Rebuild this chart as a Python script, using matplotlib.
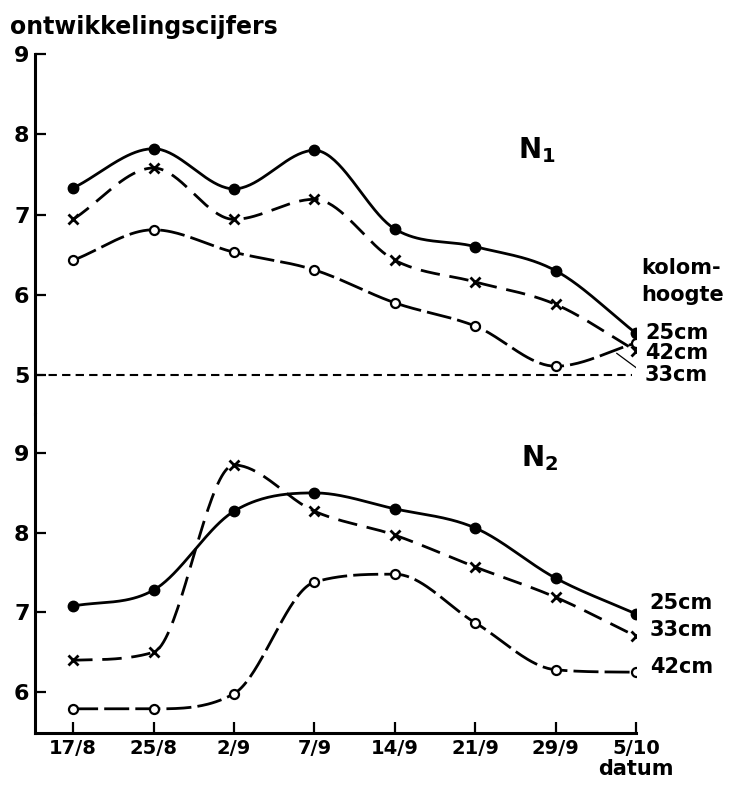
import numpy as np
import matplotlib
matplotlib.use("Agg")
import matplotlib.pyplot as plt

# meetdata: ontwikkelingscijfers per datum en kolomhoogte
datums = ["17/8", "25/8", "2/9", "7/9", "14/9", "21/9", "29/9", "5/10"]

n1_25 = [7.33, 7.82, 7.32, 7.80, 6.82, 6.60, 6.30, 5.52]
n1_33 = [6.94, 7.58, 6.94, 7.19, 6.43, 6.16, 5.88, 5.30]
n1_42 = [6.43, 6.81, 6.53, 6.31, 5.90, 5.61, 5.11, 5.40]

n2_25 = [7.08, 7.28, 8.27, 8.50, 8.30, 8.06, 7.43, 6.98]
n2_33 = [6.40, 6.50, 8.85, 8.27, 7.97, 7.57, 7.19, 6.70]
n2_42 = [5.79, 5.79, 5.98, 7.38, 7.48, 6.87, 6.28, 6.25]

N1_TICKS = [5, 6, 7, 8, 9]
N2_TICKS = [6, 7, 8, 9]
BASISLIJN = 5


def glad(x, y, n=40):
    # kubische Hermite-kromme: Catmull-Rom raaklijnen, begrensd zoals Fritsch-Carlson
    x = np.asarray(x, float)
    y = np.asarray(y, float)
    h = np.diff(x)
    d = np.diff(y) / h
    m = np.zeros_like(y)
    m[0], m[-1] = d[0], d[-1]
    for i in range(1, len(y) - 1):
        if d[i - 1] * d[i] > 0:
            m[i] = (y[i + 1] - y[i - 1]) / (x[i + 1] - x[i - 1])
    for i in range(len(d)):
        if d[i] == 0:
            m[i] = m[i + 1] = 0.0
            continue
        a, b = m[i] / d[i], m[i + 1] / d[i]
        r = a * a + b * b
        if r > 9:
            s = 3 / np.sqrt(r)
            m[i], m[i + 1] = s * a * d[i], s * b * d[i]
    xs, ys = [], []
    t = np.linspace(0, 1, n, endpoint=False)
    for i in range(len(h)):
        h00 = 2 * t ** 3 - 3 * t ** 2 + 1
        h10 = t ** 3 - 2 * t ** 2 + t
        h01 = -2 * t ** 3 + 3 * t ** 2
        h11 = t ** 3 - t ** 2
        xs.append(x[i] + t * h[i])
        ys.append(h00 * y[i] + h10 * h[i] * m[i] + h01 * y[i + 1] + h11 * h[i] * m[i + 1])
    xs.append([x[-1]])
    ys.append([y[-1]])
    return np.concatenate(xs), np.concatenate(ys)


def teken_reeks(ax, x, y, marker, stijl):
    gx, gy = glad(x, y)
    lijn, = ax.plot(gx, gy, color="black", lw=2.0, solid_capstyle="butt")
    if stijl is not None:
        lijn.set_dashes(stijl)
    if marker == "vol":
        ax.plot(x, y, "o", color="black", ms=7.5, zorder=3)
    elif marker == "open":
        ax.plot(x, y, "o", mfc="white", mec="black", ms=6.5, mew=1.6, zorder=3)
    else:
        ax.plot(x, y, "x", color="black", ms=6.5, mew=2.0, zorder=3)


plt.rcParams["font.family"] = "DejaVu Sans"
plt.rcParams["font.weight"] = "bold"
fig = plt.figure(figsize=(7.32, 7.90), dpi=100)
boven = fig.add_axes([0.048, 0.4759, 0.821, 0.4557])
onder = fig.add_axes([0.048, 0.0722, 0.821, 0.4037])

x = np.arange(len(datums))
xmin, xmax = -0.472, 7.0

for ax in (boven, onder):
    ax.set_xlim(xmin, xmax)
    for s in ("top", "right"):
        ax.spines[s].set_visible(False)
    ax.spines["left"].set_linewidth(2.2)
    ax.spines["bottom"].set_linewidth(2.2)
    ax.tick_params(axis="y", direction="in", length=8, width=1.6, labelsize=16, pad=4)
    ax.tick_params(axis="x", direction="in", length=8, width=1.6, labelsize=14, pad=4)

# bovenste paneel (N1)
boven.set_ylim(4.514, 9)
boven.set_yticks(N1_TICKS)
boven.spines["bottom"].set_visible(False)
boven.set_xticks([])
boven.plot([xmin, 6.95], [BASISLIJN, BASISLIJN], color="black", lw=1.5, dashes=(4, 2.5))
teken_reeks(boven, x, n1_25, "vol", None)
teken_reeks(boven, x, n1_33, "kruis", (7, 3.5))
teken_reeks(boven, x, n1_42, "open", (9, 2.2))
boven.plot([6.76, 7.07], [5.27, 5.04], color="black", lw=0.9)

tekst = dict(fontsize=15, ha="left", va="center")
boven.text(5.77, 7.80, "N$_\\mathbf{1}$", fontsize=20, ha="center", va="center")
boven.text(7.06, 6.33, "kolom-", **tekst)
boven.text(7.06, 6.00, "hoogte", **tekst)
boven.text(7.11, 5.52, "25cm", **tekst)
boven.text(7.11, 5.27, "42cm", **tekst)
boven.text(7.11, 5.00, "33cm", **tekst)

# onderste paneel (N2)
onder.set_ylim(5.487, 9.49)
onder.set_yticks(N2_TICKS)
onder.set_xticks(x)
onder.set_xticklabels(datums)
teken_reeks(onder, x, n2_25, "vol", None)
teken_reeks(onder, x, n2_33, "kruis", (7, 3.5))
teken_reeks(onder, x, n2_42, "open", (9, 2.2))

onder.text(5.80, 8.94, "N$_\\mathbf{2}$", fontsize=20, ha="center", va="center")
onder.text(7.17, 7.12, "25cm", **tekst)
onder.text(7.17, 6.78, "33cm", **tekst)
onder.text(7.17, 6.31, "42cm", **tekst)
onder.text(7.0, -0.112, "datum", fontsize=15, ha="center", va="center",
           transform=onder.get_xaxis_transform())

fig.text(0.014, 0.966, "ontwikkelingscijfers", fontsize=17, ha="left", va="center")

fig.savefig("out.png", dpi=100, facecolor="white")
